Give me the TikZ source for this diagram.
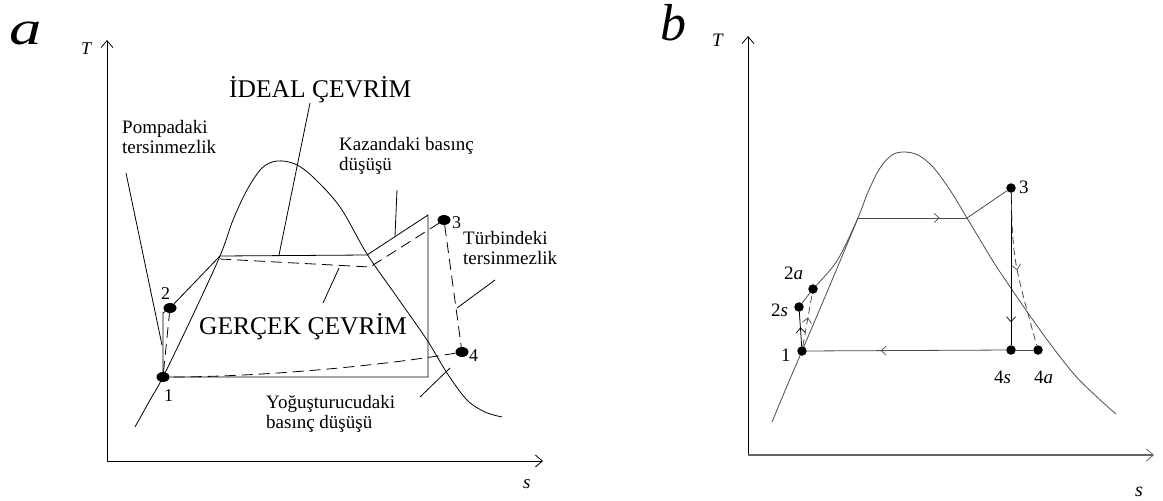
\documentclass[tikz,border=0pt]{standalone}
\usepackage{fontspec}
\setmainfont{Liberation Serif}
\usetikzlibrary{arrows.meta,shapes.geometric,decorations.markings}
\begin{document}
\begin{tikzpicture}[x=1pt,y=-1pt,
  ln/.style={line width=0.8pt},
  lnb/.style={line width=0.8pt,black!70},
  lnk/.style={line width=0.8pt,black},
  axis/.style={line width=0.9pt,-{Straight Barb[length=7pt,width=12pt,line width=0.8pt]}},
  dota/.style={ellipse,fill=black,inner sep=0pt,minimum width=13pt,minimum height=10pt},
  dotb/.style={circle,fill=black,inner sep=0pt,minimum size=9.5pt},
  dsh/.style={dash pattern=on 11pt off 6pt},
  dshb/.style={dash pattern=on 7pt off 4pt},
  lbl/.style={font=\fontsize{19}{21}\selectfont, inner sep=0pt, anchor=base west},
  big/.style={font=\fontsize{25.5}{27}\selectfont, inner sep=0pt, anchor=base west},
  num/.style={font=\fontsize{18}{19}\selectfont, inner sep=0pt, anchor=base west},
  numb/.style={font=\fontsize{19}{20}\selectfont, inner sep=0pt, anchor=base west},
  midarrow/.style={postaction={decorate},decoration={markings,mark=at position #1 with {\arrow{Straight Barb[length=5pt,width=9pt,line width=0.7pt]}}}},
]
\useasboundingbox (0,0) rectangle (1163,501);

% ================= panel a =================
\node[font=\fontsize{48}{48}\selectfont\itshape, inner sep=0pt, anchor=base west, xscale=1.35] (la) at (9,44) {a};
\coordinate (Oa) at (107,461);
\coordinate (Ta) at (107,40);
\coordinate (Sa) at (543,461);
\draw[axis] (Oa) -- (Ta);
\draw[axis] (Oa) -- (Sa);
\node[font=\fontsize{18}{19}\selectfont\itshape, inner sep=0pt, anchor=base west] (lTa) at (81,54) {T};
\node[font=\fontsize{19}{20}\selectfont\itshape, inner sep=0pt, anchor=base west] (lSa) at (523,488) {s};

% dome
\draw[ln] plot[smooth, tension=0.55] coordinates {(135,427) (150,400) (163,377) (192,317) (220,256) (233,220) (247,190) (262,168) (277,161) (295,164) (313,177) (340,207) (367,254) (397,297) (427,340) (447,373) (467,400) (485,412) (502,417)};

% state points
\node[dota] (a1) at (163,377) {};
\node[dota] (a2) at (170,308) {};
\node[dota] (a3) at (444,220) {};
\node[dota] (a4) at (462,352) {};
\coordinate (a2s) at (163,313);
\coordinate (aL) at (220,256);
\coordinate (aR) at (367,255);
\coordinate (aT) at (428,215);
\coordinate (aB) at (428,377);
\coordinate (aLd) at (220,259);
\coordinate (aRd) at (370,267);

% ideal cycle
\draw[ln] (a1) -- (a2s) -- (a2) -- (aL) -- (aR) -- (aT) -- (aB) -- (a1);
% actual cycle
\draw[ln,dsh] (a1) -- (a2);
\draw[ln,dsh] (aLd) -- (aRd) -- (a3) -- (a4);
\draw[ln,dsh] (a4) .. controls (380,366) and (260,377) .. (a1);

\node[num] (n1) at (164,401) {1};
\node[num] (n2) at (161,299) {2};
\node[num] (n3) at (452,228) {3};
\node[num] (n4) at (469,361) {4};

% leaders
\coordinate (sPom) at (126,173); \coordinate (ePom) at (162,345);
\coordinate (sId) at (310,103);  \coordinate (eId) at (279,255);
\coordinate (sKaz) at (397,190); \coordinate (eKaz) at (395,236);
\coordinate (sTur) at (495,280); \coordinate (eTur) at (457,308);
\coordinate (sGer) at (323,303); \coordinate (eGer) at (339,268);
\coordinate (sYog) at (420,397); \coordinate (eYog) at (450,368);
\draw[ln] (sPom) -- (ePom);
\draw[ln] (sId) -- (eId);
\draw[ln] (sKaz) -- (eKaz);
\draw[ln] (sTur) -- (eTur);
\draw[ln] (sGer) -- (eGer);
\draw[ln] (sYog) -- (eYog);

% texts
\node[lbl] (tPom1) at (122,133) {Pompadaki};
\node[lbl] (tPom2) at (122,153) {tersinmezlik};
\node[big] (tId) at (229,97) {İDEAL ÇEVRİM};
\node[lbl] (tKaz1) at (339,150) {Kazandaki basınç};
\node[lbl] (tKaz2) at (339,170) {düşüşü};
\node[lbl] (tTur1) at (463,244) {Türbindeki};
\node[lbl] (tTur2) at (463,264) {tersinmezlik};
\node[big] (tGer) at (199,334) {GERÇEK ÇEVRİM};
\node[lbl] (tYog1) at (266,408) {Yoğuşturucudaki};
\node[lbl] (tYog2) at (266,428) {basınç düşüşü};

% ================= panel b =================
\node[font=\fontsize{52}{52}\selectfont\itshape, inner sep=0pt, anchor=base west] (lb) at (660,40) {b};
\coordinate (Ob) at (748,455);
\coordinate (Tb) at (748,36);
\coordinate (Sb) at (1154,455);
\draw[axis] (Ob) -- (Tb);
\draw[axis, line width=1.6pt, black!60] (Ob) -- (Sb);
\node[font=\fontsize{19}{20}\selectfont\itshape, inner sep=0pt, anchor=base west] (lTb) at (712,46) {T};
\node[font=\fontsize{20}{21}\selectfont\itshape, inner sep=0pt, anchor=base west] (lSb) at (1135,496) {s};

\draw[lnb] plot[smooth, tension=0.55] coordinates {(772,422) (787,386) (802,351) (830,285) (858,218) (868,192) (880,168) (892,155) (904,152) (918,155) (933,167) (950,190) (967,218) (985,248) (1000,272) (1040,330) (1073,373) (1097,397) (1116,414)};

\node[dotb] (b1) at (802,351) {};
\node[dotb] (b2s) at (799,307) {};
\node[dotb] (b2a) at (813,289) {};
\node[dotb] (b3) at (1011,188) {};
\node[dotb] (b4s) at (1011,350) {};
\node[dotb] (b4a) at (1038,350) {};
\coordinate (bL) at (858,218);
\coordinate (bR) at (967,218);

\draw[lnk, midarrow=0.55] (b1) -- (b2s);
\draw[lnb] (b2s) -- (b2a);
\draw[lnb] (b2a) .. controls (838,262) .. (bL);
\draw[lnb, midarrow=0.75] (bL) -- (bR);
\draw[lnb] (bR) -- (b3);
\draw[lnk, midarrow=0.85] (b3) -- (b4s);
\draw[lnb, dshb, midarrow=0.5] (b3) .. controls (1013,260) .. (b4a);
\draw[lnb] (b4a) -- (b4s);
\draw[lnb, midarrow=0.63] (b4s) -- (b1);
\draw[lnb, dshb, midarrow=0.55] (b1) -- (b2a);

\node[numb] (m1) at (781,361) {1};
\node[numb] (m2s) at (771,316) {2\textit{s}};
\node[numb] (m2a) at (784,279) {2\textit{a}};
\node[numb] (m3) at (1019,193) {3};
\node[numb] (m4s) at (994,383) {4\textit{s}};
\node[numb] (m4a) at (1034,383) {4\textit{a}};
\end{tikzpicture}
\end{document}
